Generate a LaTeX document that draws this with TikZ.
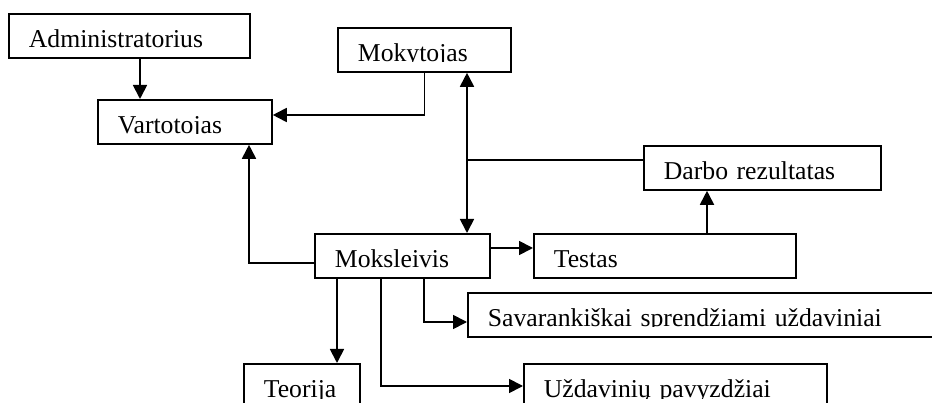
\documentclass[tikz,border=0pt]{standalone}
\usepackage{fontspec}
\setmainfont{Liberation Serif}
\usetikzlibrary{arrows.meta}
\begin{document}
\begin{tikzpicture}[x=1pt,y=-1pt,line width=1.8pt,
  box/.style={draw, anchor=north west, minimum height=44pt, inner xsep=20pt, inner ysep=0pt,
    text height=28pt, text depth=4pt, align=left, font=\fontsize{25.7}{30}\selectfont},
  arr/.style={-{Triangle[length=14pt,width=14pt]}},
  arrs/.style={{Triangle[length=14pt,width=14pt]}-{Triangle[length=14pt,width=14pt]}}]
\useasboundingbox (0,0) rectangle (932,403);
\clip (0,0) rectangle (932,403);
% boxes
\node[box, text width=201pt] (admin) at (8,13) {Administratorius};
\node[box, text width=134pt] (vart) at (97,99) {Vartotojas};
\node[box, text width=133pt] (mok) at (337,27) {Mokytojas};
\node[box, text width=197pt] (darbo) at (643,145) {Darbo rezultatas};
\node[box, text width=135pt] (moks) at (314,233) {Moksleivis};
\node[box, text width=222pt] (testas) at (533,233) {Testas};
\node[box, text width=443pt] (sav) at (467,292) {\mbox{Savarankiškai sprendžiami uždaviniai}};
\node[box, text width=263pt] (uzd) at (523,363) {\mbox{Uždavinių pavyzdžiai}};
\node[box, text width=76pt] (teor) at (243,363) {\mbox{Teorija}};
% descenders hidden by the box's inner margin
\foreach \n in {admin,vart,mok,darbo,moks,testas,sav,uzd,teor}
  \fill[white] ([shift={(2.3,0.6)}]\n.base west) rectangle ([shift={(-2.3,-2.3)}]\n.south east);
% routing coordinates
\coordinate (cA) at (140,0);
\coordinate (lB) at (0,115);
\coordinate (cC) at (467,0);
\coordinate (lD) at (0,160);
\coordinate (cE) at (707,0);
\coordinate (cF) at (249,0);
\coordinate (lF) at (0,263);
\coordinate (lG) at (0,248);
\coordinate (cH) at (337,0);
\coordinate (cI) at (381,0);
\coordinate (lI) at (0,386);
\coordinate (cJ) at (424,0);
\coordinate (lJ) at (0,322);
% connectors
\draw[arr] (admin.south -| cA) -- (vart.north -| cA);
\draw[arr] (mok.south) |- (vart.east |- lB);
\draw[arrs] (mok.south -| cC) -- (moks.north -| cC);
\draw (cC |- lD) -- (darbo.west |- lD);
\draw[arr] (testas.north -| cE) -- (darbo.south -| cE);
\draw[arr] (moks.west |- lF) -| (vart.south -| cF);
\draw[arr] (moks.east |- lG) -- (testas.west |- lG);
\draw[arr] (moks.south -| cH) -- (teor.north -| cH);
\draw[arr] (moks.south -| cI) |- (uzd.west |- lI);
\draw[arr] (moks.south -| cJ) |- (sav.west |- lJ);
\end{tikzpicture}
\end{document}
